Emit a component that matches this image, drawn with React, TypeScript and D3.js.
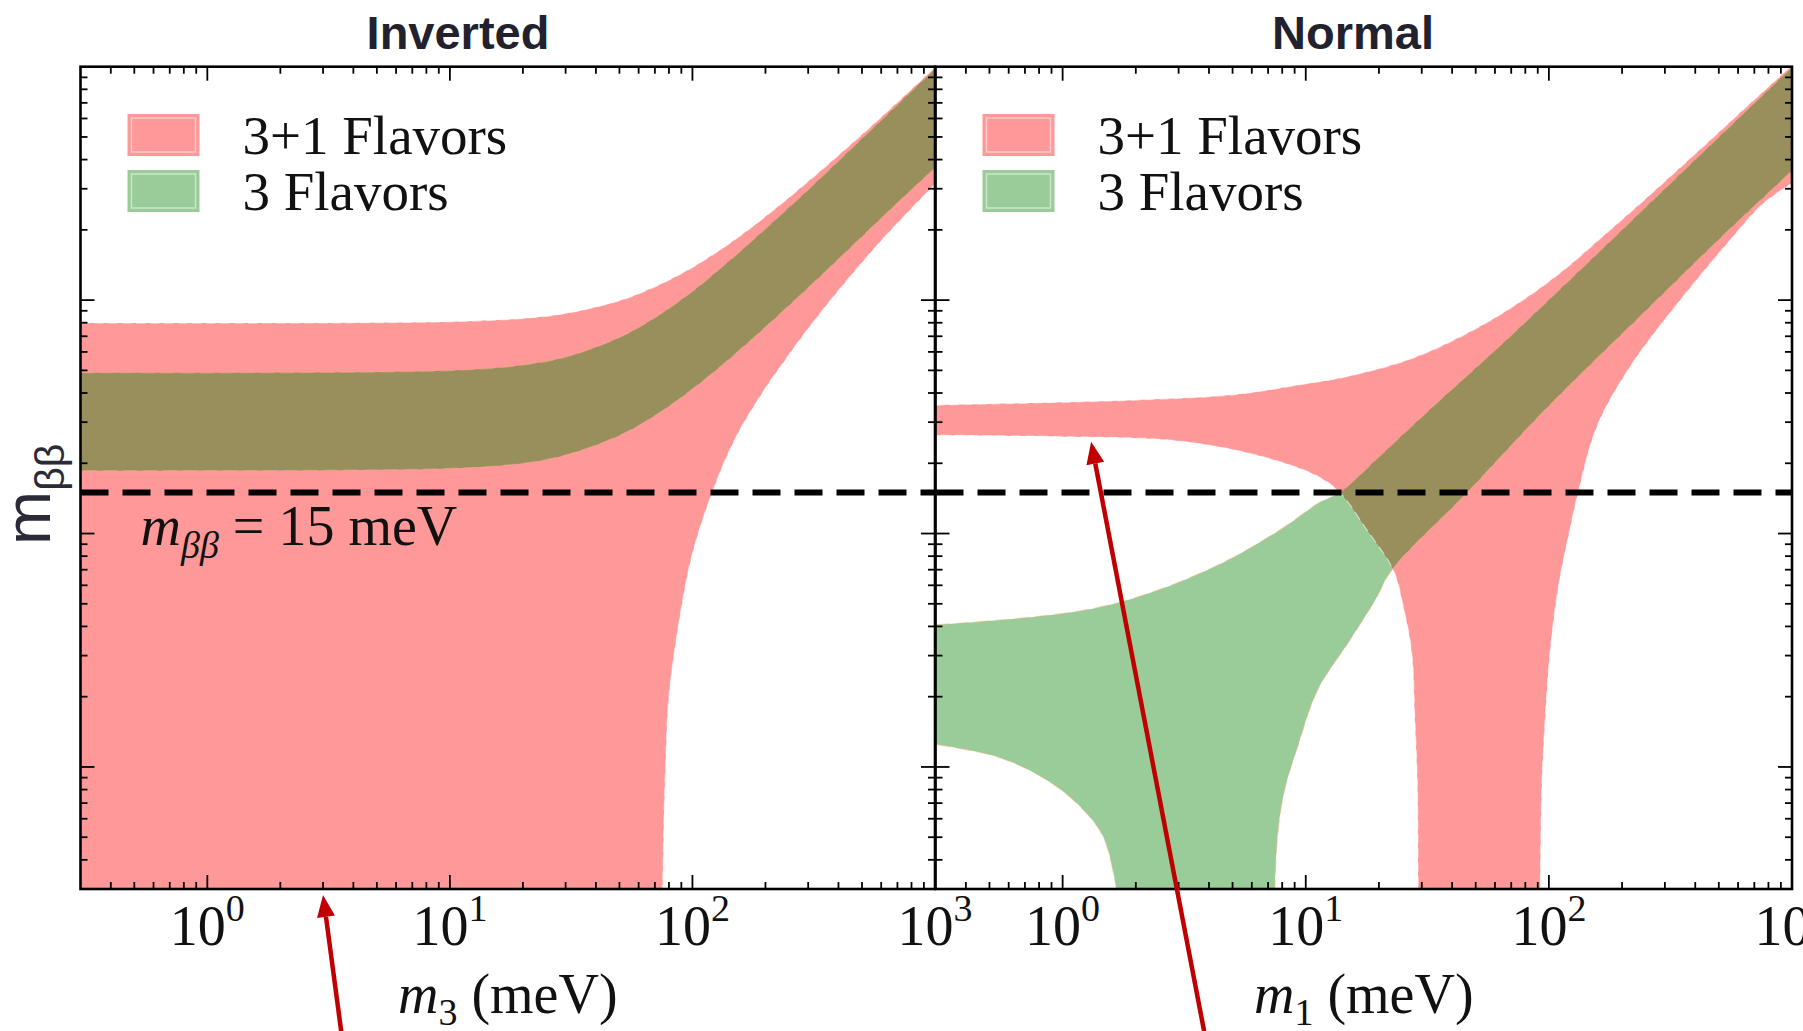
import * as d3 from 'd3';

type Pt = [number, number];

// lightest neutrino mass (meV) on x, m_bb (meV) on y, both log
const M_DOMAIN: [number, number] = [0.3, 1000];
const FLOOR = 0.2; // below the axis: band reaches m_bb = 0

// Inverted ordering, x = m3
const invRedUpper: Pt[] = [
  [0.3, 79.8], [10, 80.8], [20, 83.5], [30, 87.7], [50, 99.4], [70, 114], [100, 138],
  [150, 182], [200, 228], [300, 322], [500, 512], [700, 704], [1000, 993],
];
const invRedLower: Pt[] = [
  [1000, 314], [800, 247], [600, 180], [400, 110], [300, 75.5], [240, 55], [200, 42],
  [150, 25.5], [120, 14.8], [100, 8.2], [90, 4.8], [80, 2.0], [77.5, 1.0], [76, 0.5], [75, FLOOR],
];
const invRedCorner: Pt[] = [[0.3, FLOOR]];
const invGreenUpper: Pt[] = [
  [0.3, 48.9], [10, 49.9], [20, 52.7], [30, 57], [50, 69.2], [70, 84.1], [100, 109],
  [150, 155], [200, 202], [300, 297], [500, 492], [700, 687], [1000, 979],
];
const invGreenLower: Pt[] = [
  [1000, 368], [700, 261], [500, 187], [300, 113], [200, 76.7], [150, 58.8], [100, 41.6],
  [70, 32], [50, 26.3], [30, 21.7], [20, 20], [10, 19], [0.3, 18.6],
];

// Normal ordering, x = m1
const norRedUpper: Pt[] = [
  [0.3, 35.5], [1, 36.5], [2, 37.3], [5, 39.3], [9.6, 43.5], [14.7, 47], [27.7, 56.5],
  [52, 77], [98, 118], [184, 205], [347, 370], [652, 675], [1000, 1013],
];
const norRedRight: Pt[] = [
  [1000, 317], [763, 260], [557, 181], [347, 100], [216, 51.9], [157.5, 28.7],
  [132, 15], [122, 10.4], [109.4, 5.92], [101, 3.07], [96.5, 1.59], [93.5, 0.82], [92, FLOOR],
];
const norRedLeft: Pt[] = [
  [29, FLOOR], [28.8, 0.82], [28.1, 1.59], [27.3, 3.07], [25.2, 4.86], [22.9, 6.98],
  [17.8, 10.4], [13.8, 15], [11.3, 17.5], [8.2, 20], [5.1, 22.8], [2.7, 25.2], [1.05, 26], [0.3, 26.4],
];
const norGreenUpper: Pt[] = [
  [0.3, 4.06], [0.77, 4.4], [1.45, 4.86], [2.7, 5.92], [5.1, 7.96], [8.2, 10.7],
  [11.3, 13.5], [13.8, 15], [20, 21.3], [31.4, 33], [71.4, 72], [184, 184], [406, 406], [1000, 995],
];
const norGreenRight: Pt[] = [
  [1000, 358], [523, 190], [253, 91], [98, 34.5], [45.9, 14.9], [22.6, 6.98],
  [19.3, 5.19], [15.2, 3.5], [11.2, 2.14], [9.3, 1.24], [8.1, 0.76], [7.6, 0.46], [7.4, FLOOR],
];
const norGreenLeft: Pt[] = [
  [1.77, FLOOR], [1.49, 0.486], [1.23, 0.647], [0.9, 0.853], [0.56, 1.09], [0.3, 1.25],
];

const SENSITIVITY = 15; // meV, dashed line
const legendLabels = ['3+1 Flavors', '3 Flavors'];
const panelTitles = ['Inverted', 'Normal'];
const panelSubs = ['3', '1'];
// arrow annotations: [tail m at bottom of image, tip m, tip m_bb (null = x axis)]
const arrowNotes: [number, number, number | null][] = [
  [3.59, 3.0, null],
  [3.86, 1.31, 24.7],
];

const W = 1803;
const H = 1031;
const TOP = 66.7;
const BOTTOM = 889;
const SERIF = "'Liberation Serif', 'Times New Roman', serif";
const SANS = "'Liberation Sans', Arial, sans-serif";
const RED = '#ff0000';
const GREEN = '#008000';
const ARROW = '#c00000';

const panels = [
  { left: 80.5, right: 935, titleX: 458, red: [invRedUpper, invRedLower, invRedCorner], green: [invGreenUpper, invGreenLower] },
  { left: 935.5, right: 1792, titleX: 1353, red: [norRedUpper, norRedRight, norRedLeft], green: [norGreenUpper, norGreenRight, norGreenLeft] },
];

function bandPath(parts: Pt[][], x: d3.ScaleLogarithmic<number, number>, y: d3.ScaleLogarithmic<number, number>) {
  const line = d3
    .line<Pt>()
    .x((d) => x(d[0]))
    .y((d) => y(d[1]))
    .curve(d3.curveCatmullRom.alpha(0.5));
  return (
    parts
      .map((p, i) => {
        const s = p.length > 1 ? line(p)! : `M${x(p[0][0])},${y(p[0][1])}`;
        return i === 0 ? s : 'L' + s.slice(1);
      })
      .join('') + 'Z'
  );
}

const isMajor = (t: number) => Math.abs(Math.log10(t) - Math.round(Math.log10(t))) < 1e-6;

export default function App() {
  const y = d3.scaleLog().domain(M_DOMAIN).range([BOTTOM, TOP]);
  const yTicks = y.ticks().filter((t) => t > M_DOMAIN[0] * 1.001 && t < M_DOMAIN[1] * 0.999);

  return (
    <svg
      width={W}
      height={H}
      viewBox={`0 0 ${W} ${H}`}
      style={{ position: 'absolute', left: 0, top: 0, background: '#fff', display: 'block' }}
    >
      <rect width={W} height={H} fill="#fff" />
      {panels.map((p, pi) => {
        const x = d3.scaleLog().domain(M_DOMAIN).range([p.left, p.right]);
        const xTicks = x.ticks().filter((t) => t > M_DOMAIN[0] * 1.001 && t < M_DOMAIN[1] * 0.999);
        const labelTicks = x.ticks().filter((t) => isMajor(t) && t >= 1);
        const clipId = `clip-${pi}`;
        const cx = (p.left + p.right) / 2;
        const redD = bandPath(p.red, x, y);
        const greenD = bandPath(p.green, x, y);
        return (
          <g key={pi}>
            <defs>
              <clipPath id={clipId}>
                <rect x={p.left} y={TOP} width={p.right - p.left} height={BOTTOM - TOP} />
              </clipPath>
            </defs>
            <g clipPath={`url(#${clipId})`}>
              <path d={redD} fill={RED} fillOpacity={0.4} />
              <path d={greenD} fill={GREEN} fillOpacity={0.4} />
              {/* faint contour lines along the band edges */}
              <path d={redD} fill="none" stroke="#fff" strokeOpacity={0.55} strokeWidth={1.2} strokeDasharray="9 5" />
              <path d={greenD} fill="none" stroke="#f0b080" strokeOpacity={0.5} strokeWidth={1.2} strokeDasharray="14 6" />
              <line
                x1={p.left}
                x2={p.right}
                y1={y(SENSITIVITY)}
                y2={y(SENSITIVITY)}
                stroke="#000"
                strokeWidth={6}
                strokeDasharray="28 14"
              />
            </g>

            {/* ticks on all four sides, pointing in */}
            {xTicks.map((t) => {
              const len = isMajor(t) ? 14 : 7;
              return (
                <g key={`x${t}`} stroke="#000" strokeWidth={1.8}>
                  <line x1={x(t)} x2={x(t)} y1={BOTTOM} y2={BOTTOM - len} />
                  <line x1={x(t)} x2={x(t)} y1={TOP} y2={TOP + len} />
                </g>
              );
            })}
            {yTicks.map((t) => {
              const len = isMajor(t) ? 14 : 7;
              return (
                <g key={`y${t}`} stroke="#000" strokeWidth={1.8}>
                  <line x1={p.left} x2={p.left + len} y1={y(t)} y2={y(t)} />
                  <line x1={p.right} x2={p.right - len} y1={y(t)} y2={y(t)} />
                </g>
              );
            })}
            <rect
              x={p.left}
              y={TOP}
              width={p.right - p.left}
              height={BOTTOM - TOP}
              fill="none"
              stroke="#000"
              strokeWidth={2.6}
            />

            {labelTicks.map((t) => (
              <text key={`l${t}`} x={x(t)} y={945} textAnchor="middle" fontFamily={SERIF} fontSize={56} fill="#111">
                10
                <tspan fontSize={38} dy={-24}>
                  {Math.round(Math.log10(t))}
                </tspan>
              </text>
            ))}

            <text x={cx} y={1013} textAnchor="middle" fontFamily={SERIF} fontSize={56} fill="#111">
              <tspan fontStyle="italic">m</tspan>
              <tspan fontSize={38} dy={12}>
                {panelSubs[pi]}
              </tspan>
              <tspan dy={-12}> (meV)</tspan>
            </text>

            <text x={p.titleX} y={49} textAnchor="middle" fontFamily={SANS} fontWeight="bold" fontSize={47} fill="#22222e">
              {panelTitles[pi]}
            </text>

            {/* legend */}
            {legendLabels.map((lab, li) => (
              <g key={lab}>
                <rect x={p.left + 47} y={114 + li * 56} width={72} height={42} fill={li === 0 ? RED : GREEN} fillOpacity={0.4} />
                <rect
                  x={p.left + 51}
                  y={118 + li * 56}
                  width={64}
                  height={34}
                  fill="none"
                  stroke="#fff"
                  strokeOpacity={0.5}
                  strokeWidth={1.5}
                />
                <text x={p.left + 162} y={154 + li * 56} fontFamily={SERIF} fontSize={55} fill="#111">
                  {lab}
                </text>
              </g>
            ))}

            {pi === 0 && (
              <text x={p.left + 60} y={545} fontFamily={SERIF} fontSize={56} fill="#111">
                <tspan fontStyle="italic">m</tspan>
                <tspan fontStyle="italic" fontSize={38} dy={13}>
                  ββ
                </tspan>
                <tspan dy={-13}> = 15 meV</tspan>
              </text>
            )}

            {(() => {
              const [fromM, toM, toV] = arrowNotes[pi];
              const x0 = x(fromM);
              const y0 = H + 6;
              const x1 = x(toM);
              const y1 = toV === null ? BOTTOM + 6 : y(toV);
              const dx = x1 - x0;
              const dy = y1 - y0;
              const len = Math.hypot(dx, dy);
              const ux = dx / len;
              const uy = dy / len;
              const head = 22;
              const half = 9;
              const bx = x1 - ux * head;
              const by = y1 - uy * head;
              return (
                <g>
                  <line x1={x0} y1={y0} x2={bx} y2={by} stroke={ARROW} strokeWidth={4.5} />
                  <path
                    d={`M${x1},${y1}L${bx - uy * half},${by + ux * half}L${bx + uy * half},${by - ux * half}Z`}
                    fill={ARROW}
                  />
                </g>
              );
            })()}
          </g>
        );
      })}

      <g transform={`translate(50,545) rotate(-90)`}>
        <text x={0} y={0} fontFamily={SANS} fontSize={65} fill="#2b2b38">
          m
          <tspan fontSize={41} dy={14}>
            ββ
          </tspan>
        </text>
      </g>
    </svg>
  );
}
